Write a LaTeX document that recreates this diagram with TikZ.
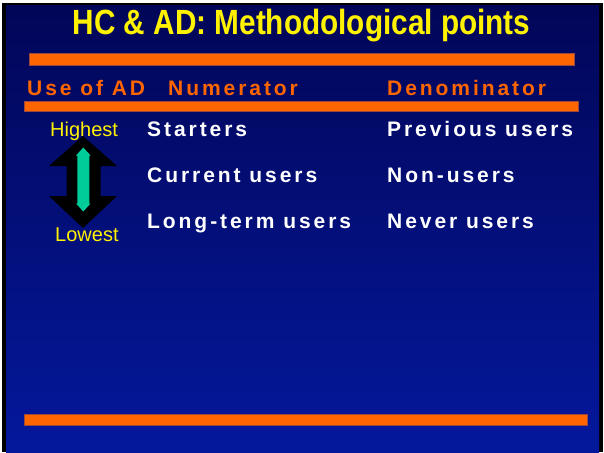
\documentclass[tikz,border=0pt]{standalone}
\usepackage{fontspec}
\setmainfont{Liberation Sans}
\newfontfamily\tracked[LetterSpace=14]{Liberation Sans}
\definecolor{slidetop}{RGB}{2,6,88}
\definecolor{slidebottom}{RGB}{4,24,156}
\definecolor{barorange}{RGB}{255,102,0}
\definecolor{arrowgreen}{RGB}{0,204,153}
\tikzstyle{bar}=[fill=barorange,draw=barorange!60!slidebottom,line width=0.6pt]
\tikzset{
  colhead/.style={anchor=base west,inner sep=0,text=barorange,
    font=\tracked\bfseries\fontsize{21}{24}\selectfont},
  cell/.style={colhead,text=white},
  rank/.style={anchor=base west,inner sep=0,text=yellow,
    font=\fontsize{20}{22}\selectfont}
}

\begin{document}
\begin{tikzpicture}[x=1pt,y=-1pt]

\useasboundingbox (0,0) rectangle (604,452);
\fill[white] (0,0) rectangle (604,452);
\fill[black] (2,3) rectangle (602.5,452);
\shade[top color=slidetop,bottom color=slidebottom] (6,6) rectangle (599,452);

\node[anchor=base,inner sep=0,text=yellow,font=\bfseries\fontsize{35}{38}\selectfont]
  (title) at (301.5,34.3) {\scalebox{0.85}[1]{HC \& AD: Methodological points}};

\draw[bar] (29,53) rectangle (574,65);
\draw[bar] (24,101) rectangle (578,111);
\draw[bar] (24,414) rectangle (587,425);

\node[colhead] (use) at (27,95) {Use of AD};
\node[colhead] (num) at (168,95) {Numerator};
\node[colhead] (den) at (387,95) {Denominator};

% ranking arrow
\fill[black] (83,136) -- (117,166) -- (100.5,166) -- (100.5,196) -- (117,196)
  -- (83,228) -- (49,196) -- (66.5,196) -- (66.5,166) -- (49,166) -- cycle;
\fill[arrowgreen] (83.3,147.5) -- (90.6,155.5) -- (89.3,155.5) -- (89.3,203.5)
  -- (90.6,203.5) -- (83.3,211.5) -- (76,203.5) -- (77.3,203.5) -- (77.3,155.5)
  -- (76,155.5) -- cycle;

\node[rank] (high) at (50,136.7) {Highest};
\node[rank] (low) at (55,241) {Lowest};

\node[cell] (start) at (147,136.5) {Starters};
\node[cell] (curr) at (147,182.5) {Current users};
\node[cell] (long) at (147,228) {Long-term users};
\node[cell] (prev) at (387,136.5) {Previous users};
\node[cell] (non) at (387,182.5) {Non-users};
\node[cell] (never) at (387,228) {Never users};

\end{tikzpicture}
\end{document}
